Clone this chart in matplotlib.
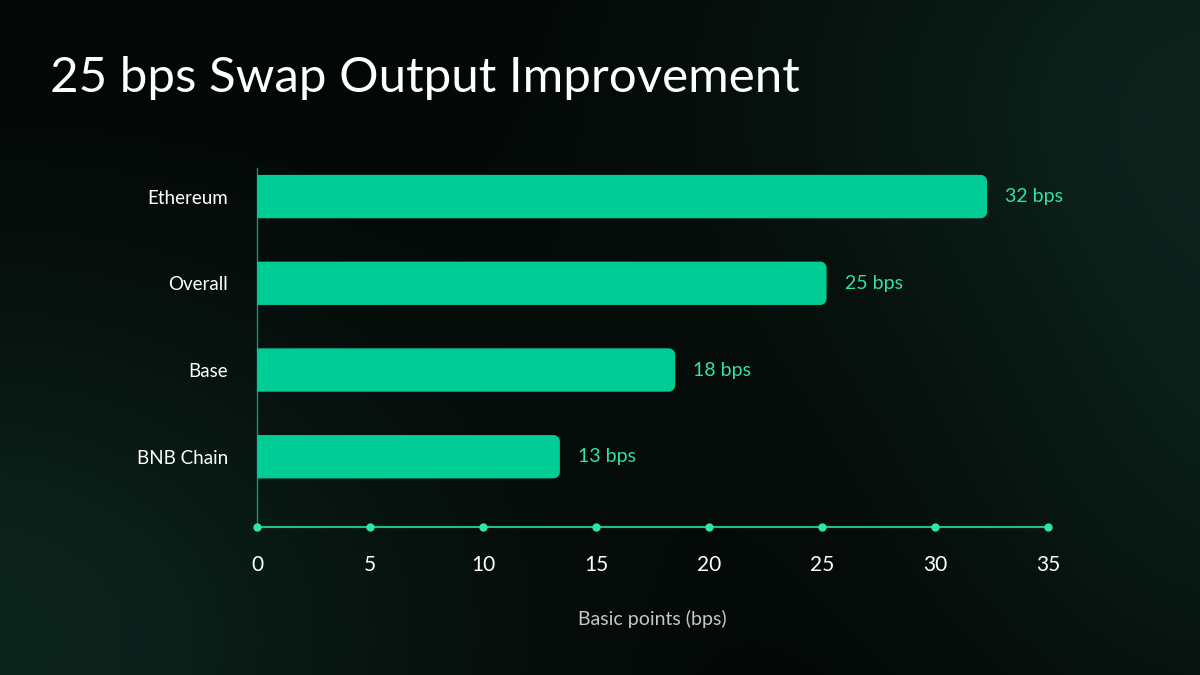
import numpy as np
import matplotlib.pyplot as plt
from matplotlib.patches import PathPatch
from matplotlib.path import Path

plt.rcParams['font.family'] = ['Lato', 'DejaVu Sans']

chains = ['BNB Chain', 'Base', 'Overall', 'Ethereum']
values = [13.4, 18.5, 25.2, 32.3]
value_labels = ['13 bps', '18 bps', '25 bps', '32 bps']
xticks = [0, 5, 10, 15, 20, 25, 30, 35]

BAR = '#00cc96'
TXT_GREEN = '#33e0a6'
AXIS = '#1fbf8c'

fig = plt.figure(figsize=(12, 6.75), dpi=100)

# background glow
bg = fig.add_axes([0, 0, 1, 1])
bg.set_axis_off()
W, H = 1200, 675
xx, yy = np.meshgrid(np.arange(W), np.arange(H))
def blob(cx, cy, sx, sy):
    return np.exp(-(((xx - cx) / sx) ** 2 + ((yy - cy) / sy) ** 2))
glow = (1.0 * blob(-30, 640, 480, 360) + 0.9 * blob(1230, 80, 480, 340)
        + 0.55 * blob(1250, 520, 320, 280))
glow = np.clip(glow, 0, 1)
base = np.array([3, 6, 5]) / 255
green = np.array([13, 36, 29]) / 255
img = base + glow[..., None] * (green - base)
bg.imshow(img, extent=[0, 1, 0, 1], aspect='auto', zorder=0)
bg.set_xlim(0, 1)
bg.set_ylim(0, 1)

ax = fig.add_axes([0.2142, 0.2193, 0.6592, 0.5319])
ax.set_facecolor('none')
ax.set_xlim(0, 35)
ax.set_ylim(-0.81, 3.33)

ypos = np.arange(len(chains))
bars = ax.barh(ypos, values, height=0.5, color='none')

# bars with only the right corners rounded
rx = 0.28
ry = rx * 22.6 / 86.8
t = np.linspace(0, np.pi / 2, 8)
for b in bars:
    x0, y0, w, h = b.get_x(), b.get_y(), b.get_width(), b.get_height()
    x1, y1 = x0 + w, y0 + h
    verts = [(x0, y0)]
    verts += [(x1 - rx + rx * np.sin(a), y0 + ry - ry * np.cos(a)) for a in t]
    verts += [(x1 - rx + rx * np.cos(a), y1 - ry + ry * np.sin(a)) for a in t]
    verts += [(x0, y1), (x0, y0)]
    codes = [Path.MOVETO] + [Path.LINETO] * (len(verts) - 2) + [Path.CLOSEPOLY]
    ax.add_patch(PathPatch(Path(verts, codes), fc=BAR, ec='none', zorder=3))

for y, v, lab in zip(ypos, values, value_labels):
    ax.text(v + 0.8, y, lab, color=TXT_GREEN, fontsize=14, va='center', ha='left')

for s in ['top', 'right']:
    ax.spines[s].set_visible(False)
ax.spines['left'].set_color('#15946d')
ax.spines['left'].set_linewidth(1)
ax.spines['bottom'].set_color(AXIS)
ax.spines['bottom'].set_linewidth(1.5)
ax.spines['bottom'].set_zorder(4)

ax.plot(xticks, [-0.81] * len(xticks), 'o', color='#2ee6a6', ms=6, mec='none',
        clip_on=False, zorder=5)

ax.set_xticks(xticks)
ax.set_xticklabels([str(t) for t in xticks], color='white', fontsize=15)
ax.tick_params(axis='x', length=0, pad=20)
ax.set_yticks(ypos)
ax.set_yticklabels(chains, color='white', fontsize=13.5)
ax.tick_params(axis='y', length=0, pad=21)

ax.set_xlabel('Basic points (bps)', color='#c4c8c6', fontsize=14, labelpad=25)

fig.text(50 / 1200, 1 - 92 / 675, '25 bps Swap Output Improvement', color='white',
         fontsize=35.5, ha='left', va='baseline')

fig.savefig('out.png', dpi=100)
